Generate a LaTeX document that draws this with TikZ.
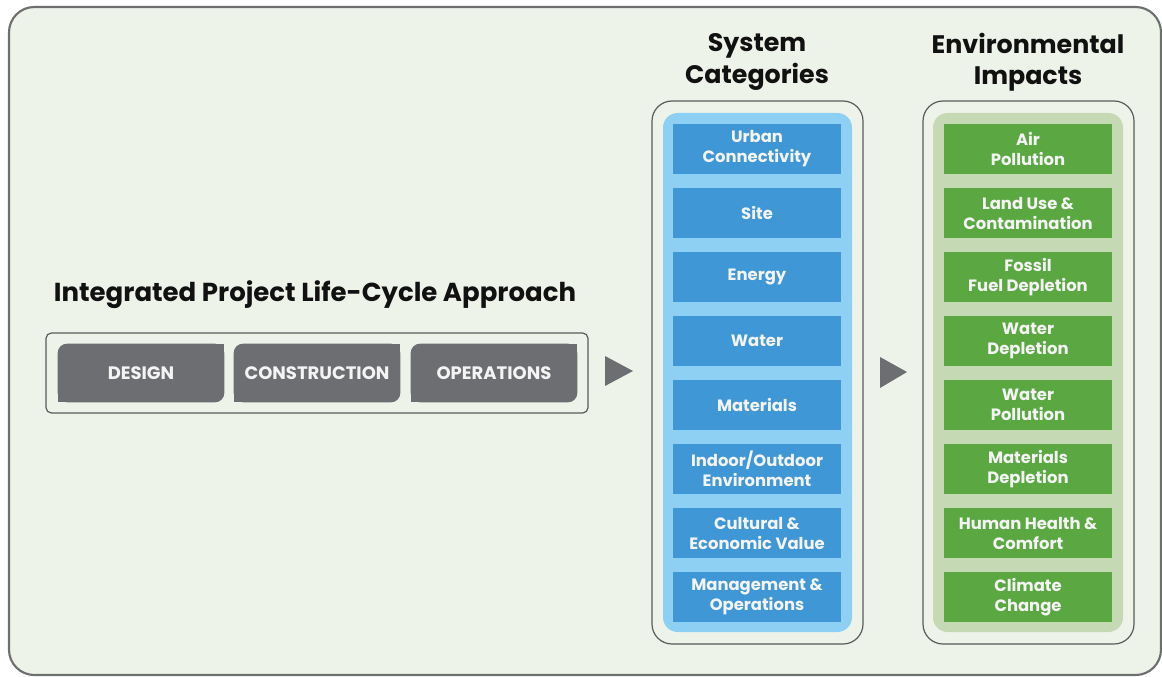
\documentclass[tikz,border=0pt]{standalone}
\usepackage{fontspec}
\setmainfont{Poppins}
\definecolor{bg}{HTML}{EEF3EA}
\definecolor{framegray}{HTML}{6E6F6E}
\definecolor{linegray}{HTML}{5A5A5A}
\definecolor{phasegray}{HTML}{6D6E71}
\definecolor{boxblue}{HTML}{3F97D5}
\definecolor{lightblue}{HTML}{8ED0F4}
\definecolor{boxgreen}{HTML}{5BA843}
\definecolor{lightgreen}{HTML}{C6D9B5}
\definecolor{headblack}{HTML}{111111}
\definecolor{boxtext}{HTML}{F4F4F4}
\tikzset{
  heading/.style={text=headblack, font=\fontsize{19}{23.5}\selectfont\bfseries, align=center, inner sep=0pt},
  titletext/.style={text=headblack, font=\fontsize{19.5}{23}\selectfont\bfseries, inner sep=0pt},
  phasebox/.style={fill=phasegray, rounded corners=7pt, minimum width=125pt, minimum height=44pt, inner sep=0pt, outer sep=0pt,
    text=boxtext, font=\fontsize{13.5}{15}\selectfont\bfseries},
  catbox/.style={fill=boxblue, minimum width=126pt, minimum height=37.5pt, inner sep=0pt, outer sep=0pt, align=center,
    text=boxtext, font=\fontsize{12.3}{15}\selectfont\bfseries},
  impbox/.style={catbox, fill=boxgreen},
  outerline/.style={draw=linegray, line width=0.9pt},
}
\begin{document}
\begin{tikzpicture}[x=0.75pt,y=-0.75pt]
\useasboundingbox (0,0) rectangle (1162,677);
\fill[white] (0,0) rectangle (1162,677);
% main frame
\draw[draw=framegray, line width=1.6pt, fill=bg, rounded corners=19pt] (9,7) rectangle (1161,675);

% title and phases
\node[titletext] (title) at (315,295) {Integrated Project Life-Cycle Approach};
\draw[outerline, rounded corners=4pt] (46,333) rectangle (588,413);
\node[phasebox] (design) at (141,373) {DESIGN};
\node[phasebox] (construction) at (317,373) {CONSTRUCTION};
\node[phasebox] (operations) at (494,373) {OPERATIONS};
\foreach \n in {design,construction,operations} {
  \fill[phasegray] (\n.north east) rectangle ([xshift=-10pt,yshift=-10pt]\n.north east);
  \fill[phasegray] (\n.south west) rectangle ([xshift=10pt,yshift=10pt]\n.south west);
}

% arrows
\fill[phasegray] (605,356) -- (633,371) -- (605,386) -- cycle;
\fill[phasegray] (880,357) -- (907,372) -- (880,388) -- cycle;

% headings
\node[heading] (syshead) at (757,62) {System\\Categories};
\node[heading] (envhead) at (1028,62) {Environmental\\Impacts};

% containers
\draw[outerline, fill=bg, rounded corners=15pt] (652,101) rectangle (863,644);
\fill[lightblue, rounded corners=11pt] (663,113) rectangle (852,632);
\draw[outerline, fill=bg, rounded corners=15pt] (923,101) rectangle (1134,644);
\fill[lightgreen, rounded corners=11pt] (933,113) rectangle (1123,632);

% system categories
\node[catbox] (c1) at (757,149) {Urban\\Connectivity};
\node[catbox] (c2) at (757,213) {Site};
\node[catbox] (c3) at (757,277) {Energy};
\node[catbox] (c4) at (757,341) {Water};
\node[catbox] (c5) at (757,405) {Materials};
\node[catbox] (c6) at (757,469) {Indoor/Outdoor\\Environment};
\node[catbox] (c7) at (757,533) {Cultural \&\\Economic Value};
\node[catbox] (c8) at (757,597) {Management \&\\Operations};

% environmental impacts
\node[impbox] (e1) at (1028,149) {Air\\Pollution};
\node[impbox] (e2) at (1028,213) {Land Use \&\\Contamination};
\node[impbox] (e3) at (1028,277) {Fossil\\Fuel Depletion};
\node[impbox] (e4) at (1028,341) {Water\\Depletion};
\node[impbox] (e5) at (1028,405) {Water\\Pollution};
\node[impbox] (e6) at (1028,469) {Materials\\Depletion};
\node[impbox] (e7) at (1028,533) {Human Health \&\\Comfort};
\node[impbox] (e8) at (1028,597) {Climate\\Change};
\end{tikzpicture}
\end{document}
